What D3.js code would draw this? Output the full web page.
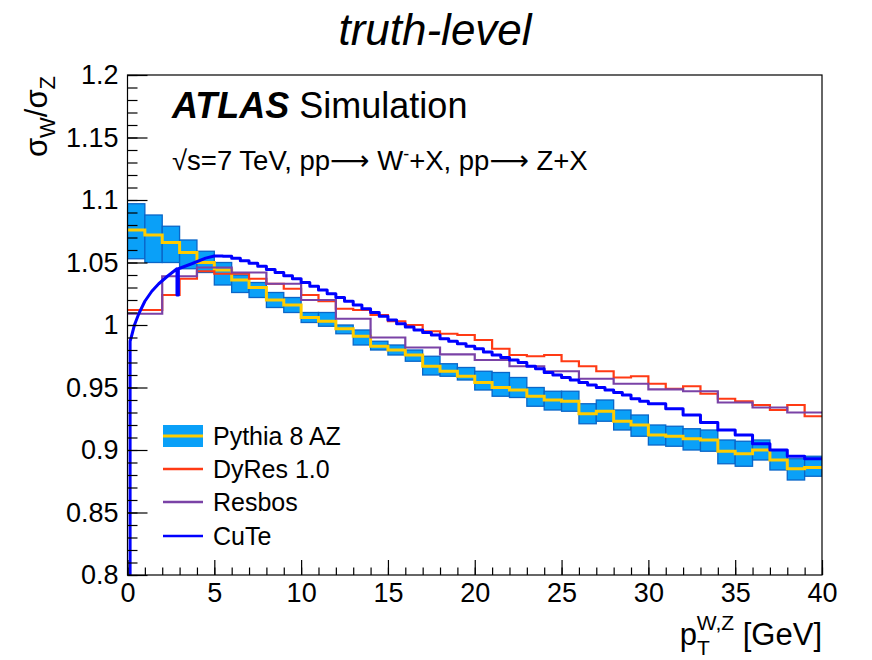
<!DOCTYPE html>
<html>
<head>
<meta charset="utf-8">
<script src="https://cdn.jsdelivr.net/npm/d3@7"></script>
<style>
body { margin: 0; background: #fff; }
svg { font-family: "Liberation Sans", Arial, Helvetica, sans-serif; }
</style>
</head>
<body>
<svg id="chart" width="872" height="660"></svg>
<script>
// Pythia 8 AZ, 1 GeV bins: central value and band edges
var pythiaEdges = d3.range(0, 41, 1);
var pythiaMid = [1.076, 1.072, 1.066, 1.058, 1.050, 1.044, 1.036, 1.030, 1.020, 1.016,
    1.006, 1.003, 0.997, 0.991, 0.983, 0.980, 0.976, 0.967, 0.963, 0.959,
    0.954, 0.950, 0.948, 0.943, 0.940, 0.939, 0.929, 0.931, 0.923, 0.920,
    0.912, 0.911, 0.909, 0.908, 0.899, 0.897, 0.900, 0.892, 0.885, 0.886];
var pythiaHigh = [1.097, 1.088, 1.079, 1.068, 1.059, 1.050, 1.040, 1.034, 1.026, 1.022,
    1.010, 1.010, 1.000, 0.996, 0.987, 0.984, 0.980, 0.975, 0.969, 0.966,
    0.963, 0.962, 0.958, 0.950, 0.947, 0.947, 0.937, 0.940, 0.932, 0.928,
    0.920, 0.919, 0.917, 0.916, 0.908, 0.907, 0.908, 0.900, 0.893, 0.895];
var pythiaLow = [1.053, 1.050, 1.050, 1.045, 1.042, 1.032, 1.026, 1.022, 1.014, 1.010,
    1.002, 0.999, 0.993, 0.984, 0.980, 0.976, 0.971, 0.960, 0.959, 0.956,
    0.948, 0.943, 0.942, 0.935, 0.932, 0.931, 0.921, 0.923, 0.916, 0.911,
    0.904, 0.903, 0.900, 0.899, 0.889, 0.887, 0.892, 0.884, 0.876, 0.879];

// DyRes 1.0, 1 GeV bins
var dyresEdges = d3.range(0, 41, 1);
var dyresVals = [1.012, 1.012, 1.024, 1.037, 1.043, 1.041, 1.041, 1.037, 1.033, 1.029,
    1.024, 1.019, 1.013, 1.012, 1.008, 1.003, 1.000, 0.995, 0.993, 0.992,
    0.988, 0.981, 0.976, 0.975, 0.976, 0.971, 0.967, 0.963, 0.958, 0.959,
    0.953, 0.949, 0.951, 0.945, 0.941, 0.939, 0.936, 0.932, 0.936, 0.927];

// Resbos, 2 GeV bins
var resbosEdges = d3.range(0, 41, 2);
var resbosVals = [1.009, 1.039, 1.046, 1.042, 1.033, 1.020, 1.005, 0.990, 0.982, 0.9765,
    0.972, 0.967, 0.963, 0.957, 0.953, 0.9485, 0.947, 0.938, 0.934, 0.930];

// CuTe: smooth part at low pT, then histogram
var cuteCurvePt = [0.15, 0.15, 0.25, 0.4, 0.65, 1.0, 1.4, 1.8, 2.3, 2.85, 2.85, 2.93, 2.93, 3.7, 4.5, 5.0];
var cuteCurveVal = [0.800, 0.987, 0.992, 1.000, 1.009, 1.019, 1.027, 1.033, 1.039, 1.045, 1.024, 1.024, 1.045, 1.049, 1.0535, 1.0552];
var cuteEdges = d3.range(5, 30.01, 0.5).concat(d3.range(31, 41, 1));
var cuteVals = [1.0552, 1.0550, 1.0535, 1.0515, 1.0495, 1.0470, 1.0445, 1.0420, 1.0395, 1.0370,
    1.0340, 1.0310, 1.0280, 1.0250, 1.0220, 1.0190, 1.0160, 1.0130, 1.0100, 1.0070,
    1.0040, 1.0010, 0.9985, 0.9960, 0.9940, 0.9920, 0.9890, 0.9870, 0.9850, 0.9830,
    0.9810, 0.9785, 0.9760, 0.9740, 0.9720, 0.9700, 0.9670, 0.9650, 0.9620, 0.9600,
    0.9580, 0.9560, 0.9540, 0.9520, 0.9500, 0.9480, 0.9460, 0.9440, 0.9410, 0.9390,
    0.937, 0.933, 0.928, 0.922, 0.916, 0.912, 0.905, 0.900, 0.895, 0.893];

var xMajor = [0, 5, 10, 15, 20, 25, 30, 35, 40];
var yMajor = [0.8, 0.85, 0.9, 0.95, 1, 1.05, 1.1, 1.15, 1.2];
var yLabels = ["0.8", "0.85", "0.9", "0.95", "1", "1.05", "1.1", "1.15", "1.2"];

var legendNames = ["Pythia 8 AZ", "DyRes 1.0", "Resbos", "CuTe"];

var colBand = "#0aa0f8",
    colBandEdge = "#0a66c8",
    colMid = "#ffcc00",
    colDyres = "#ff3a14",
    colResbos = "#7a42a6",
    colCute = "#0000ff";

var frameL = 127.5, frameR = 822, frameT = 75, frameB = 575;

var svg = d3.select("#chart");

var x = d3.scaleLinear().domain([0, 40]).range([frameL, frameR]);
var y = d3.scaleLinear().domain([0.8, 1.2]).range([frameB, frameT]);

svg.append("clipPath").attr("id", "frame")
    .append("rect")
    .attr("x", frameL).attr("y", frameT)
    .attr("width", frameR - frameL).attr("height", frameB - frameT);

function stepPoints(edges, vals) {
    var pts = vals.map(function(v, i) { return [edges[i], v]; });
    pts.push([edges[vals.length], vals[vals.length - 1]]);
    return pts;
}

var stepLine = d3.line()
    .x(function(d) { return x(d[0]); })
    .y(function(d) { return y(d[1]); })
    .curve(d3.curveStepAfter);

var plot = svg.append("g").attr("clip-path", "url(#frame)");

// pythia band boxes
plot.selectAll("rect.band")
    .data(pythiaMid)
    .enter()
    .append("rect")
    .attr("class", "band")
    .attr("x", function(d, i) { return x(pythiaEdges[i]); })
    .attr("width", function(d, i) { return x(pythiaEdges[i + 1]) - x(pythiaEdges[i]); })
    .attr("y", function(d, i) { return y(pythiaHigh[i]); })
    .attr("height", function(d, i) { return y(pythiaLow[i]) - y(pythiaHigh[i]); })
    .style("fill", colBand)
    .style("stroke", colBandEdge)
    .style("stroke-width", 1.3);

plot.append("path")
    .attr("d", stepLine(stepPoints(pythiaEdges, pythiaMid)))
    .style("fill", "none")
    .style("stroke", colMid)
    .style("stroke-width", 3);

plot.append("path")
    .attr("d", stepLine(stepPoints(dyresEdges, dyresVals)))
    .style("fill", "none")
    .style("stroke", colDyres)
    .style("stroke-width", 2.2);

plot.append("path")
    .attr("d", stepLine(stepPoints(resbosEdges, resbosVals)))
    .style("fill", "none")
    .style("stroke", colResbos)
    .style("stroke-width", 2.2);

// cute: curve part + histogram part
var cutePts = cuteCurvePt.map(function(p, i) { return [x(p), y(cuteCurveVal[i])]; });
var cuteHist = stepPoints(cuteEdges, cuteVals).map(function(d) { return [x(d[0]), y(d[1])]; });
var cuteStepped = [];
cuteHist.forEach(function(p, i) {
    if (i > 0) cuteStepped.push([p[0], cuteHist[i - 1][1]]);
    cuteStepped.push(p);
});
plot.append("path")
    .attr("d", d3.line()(cutePts.concat(cuteStepped)))
    .style("fill", "none")
    .style("stroke", colCute)
    .style("stroke-width", 3)
    .style("stroke-linejoin", "round");

// frame
svg.append("rect")
    .attr("x", frameL).attr("y", frameT)
    .attr("width", frameR - frameL).attr("height", frameB - frameT)
    .style("fill", "none")
    .style("stroke", "#000")
    .style("stroke-width", 1.2);

// axes, ticks pointing inwards
var xMinorAxis = d3.axisBottom(x).tickValues(d3.range(0, 41, 1)).tickSize(-7.5).tickFormat("");
var xAxis = d3.axisBottom(x).tickValues(xMajor).tickSize(-15).tickPadding(8).tickFormat(d3.format("d"));
var yMinorAxis = d3.axisLeft(y).tickValues(d3.range(80, 121, 1).map(function(v) { return v / 100; })).tickSize(-10).tickFormat("");
var yAxis = d3.axisLeft(y).tickValues(yMajor).tickSize(-20).tickPadding(9)
    .tickFormat(function(d, i) { return yLabels[i]; });

[
    [xMinorAxis, "translate(0," + frameB + ")"],
    [xAxis, "translate(0," + frameB + ")"],
    [yMinorAxis, "translate(" + frameL + ",0)"],
    [yAxis, "translate(" + frameL + ",0)"]
].forEach(function(a) {
    var g = svg.append("g").attr("transform", a[1]).call(a[0]);
    g.select(".domain").remove();
    g.selectAll("line").style("stroke", "#000").style("stroke-width", 1.2);
    g.selectAll("text")
        .style("font-family", "'Liberation Sans', Arial, sans-serif")
        .style("font-size", "27px")
        .style("fill", "#000");
});

// title
svg.append("text")
    .attr("x", 435).attr("y", 45)
    .attr("text-anchor", "middle")
    .style("font-size", "44px")
    .style("font-style", "italic")
    .text("truth-level");

// ATLAS label
var atlas = svg.append("text")
    .attr("x", 172).attr("y", 118)
    .style("font-size", "36px");
atlas.append("tspan").style("font-weight", "bold").style("font-style", "italic").text("ATLAS");
atlas.append("tspan").text(" Simulation");

// process line, long thin arrows like ROOT's #rightarrow
var proc = svg.append("text")
    .attr("x", 172).attr("y", 170)
    .style("font-size", "27.5px");
proc.append("tspan").text("\u221As=7 TeV, pp");
proc.append("tspan").style("font-family", "'DejaVu Sans'").text("\u27F6");
proc.append("tspan").text(" W");
proc.append("tspan").attr("dy", -10).style("font-size", "18px").text("-");
proc.append("tspan").attr("dy", 10).text("+X, pp");
proc.append("tspan").style("font-family", "'DejaVu Sans'").text("\u27F6");
proc.append("tspan").text(" Z+X");

// y title
var yt = svg.append("text")
    .attr("transform", "translate(47,76) rotate(-90)")
    .attr("text-anchor", "end")
    .style("font-size", "31px");
yt.append("tspan").text("\u03C3");
yt.append("tspan").attr("dy", 8).style("font-size", "22px").text("W");
yt.append("tspan").attr("dy", -8).text("/\u03C3");
yt.append("tspan").attr("dy", 8).style("font-size", "22px").text("Z");

// x title
var xt = svg.append("text")
    .attr("x", 822).attr("y", 645)
    .attr("text-anchor", "end")
    .style("font-size", "31px");
xt.append("tspan").text("p");
xt.append("tspan").attr("dy", 10).style("font-size", "21px").text("T");
xt.append("tspan").attr("dx", -13).attr("dy", -25).style("font-size", "21px").text("W,Z");
xt.append("tspan").attr("dy", 15).text(" [GeV]");

// legend
var legY = [436, 469, 502, 536];
var legend = svg.append("g");
legend.append("rect")
    .attr("x", 163).attr("y", legY[0] - 11)
    .attr("width", 40).attr("height", 22)
    .style("fill", colBand);
legend.append("line")
    .attr("x1", 163).attr("x2", 203)
    .attr("y1", legY[0]).attr("y2", legY[0])
    .style("stroke", colMid).style("stroke-width", 3);
[colDyres, colResbos, colCute].forEach(function(c, i) {
    legend.append("line")
        .attr("x1", 163).attr("x2", 203)
        .attr("y1", legY[i + 1]).attr("y2", legY[i + 1])
        .style("stroke", c).style("stroke-width", 2.5);
});
legend.selectAll("text.leg")
    .data(legendNames)
    .enter()
    .append("text")
    .attr("class", "leg")
    .attr("x", 213)
    .attr("y", function(d, i) { return legY[i] + 9; })
    .style("font-size", "25px")
    .text(function(d) { return d; });
</script>
</body>
</html>
